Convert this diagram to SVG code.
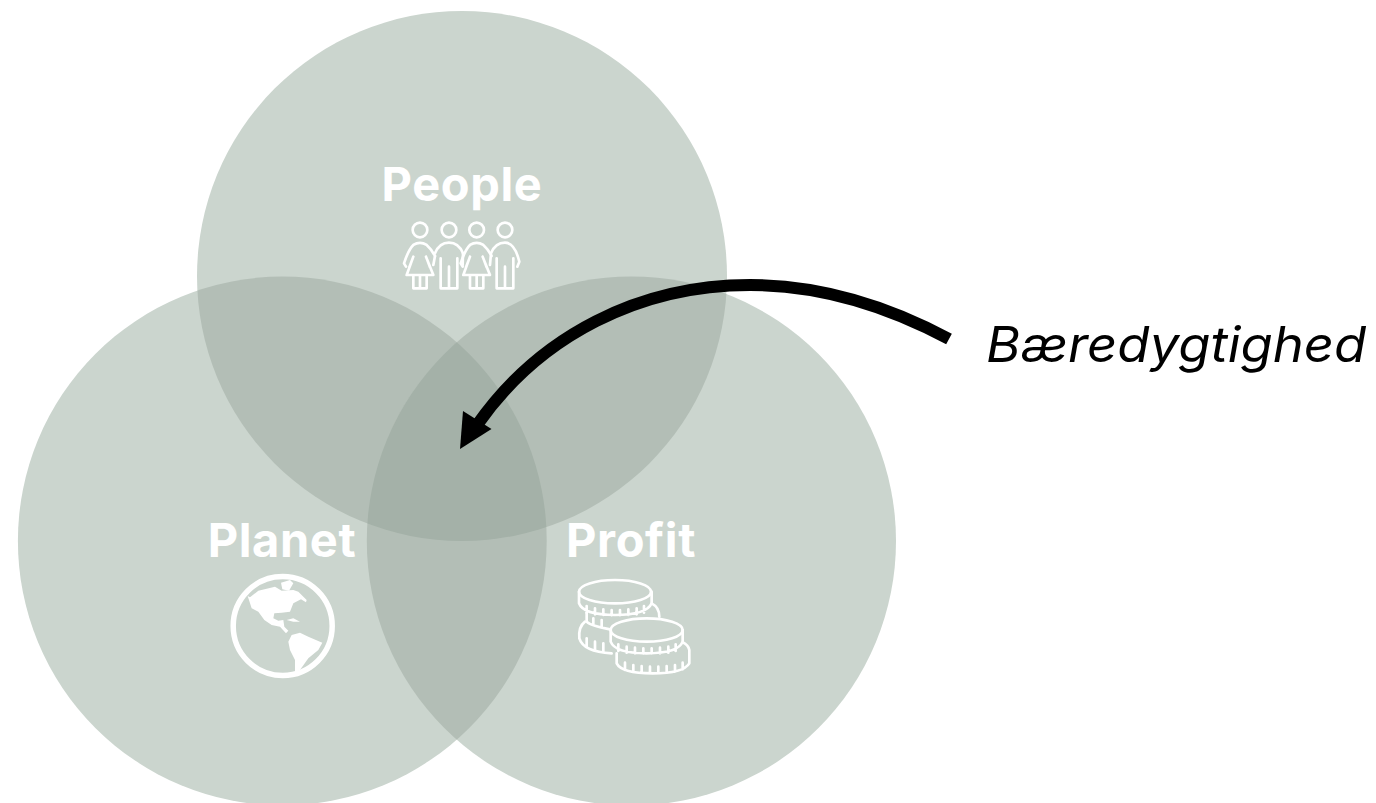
<svg xmlns="http://www.w3.org/2000/svg" width="1376" height="803" viewBox="0 0 1376 803">
<defs>
<clipPath id="cTop"><circle cx="462" cy="276" r="265"/></clipPath>
<clipPath id="cLeft"><circle cx="282.3" cy="541" r="264.4"/></clipPath>
<clipPath id="cRight"><circle cx="631.4" cy="541" r="264.6"/></clipPath>
<g id="woman"><path d="M78,350 L72,340 Q85,300 100,285 Q120,272 140,285 Q155,298 165,318 M100,320 L80,375 H160 L138,320 M100,320 L88,352 M138,320 L150,352 M100,375 V415 H140 V375 M120,375 V415"/></g>
<g id="man"><path d="M165,310 Q178,278 207,278 Q236,278 249,310 M182,325 V415 H232 V325 M207,350 V415"/></g>
</defs>
<style>
.c{fill:#cbd5ce}
.d{fill:#b3beb6}
.t{fill:#a4b1a8}
.l{font-family:"Inter","Liberation Sans",sans-serif;font-weight:700;font-size:47px;letter-spacing:.6px;fill:#fff;text-anchor:middle}
.i{fill:none;stroke:#fff;stroke-width:8;stroke-linejoin:round;stroke-linecap:round}
.m{fill:none;stroke:#fff;stroke-width:8;stroke-linejoin:round;stroke-linecap:round}
.s{fill:#fff}
</style>
<rect width="1376" height="803" fill="#fff"/>
<g id="node-people"><circle class="c" cx="462" cy="276" r="265"/></g>
<g id="node-planet"><circle class="c" cx="282.3" cy="541" r="264.4"/></g>
<g id="node-profit"><circle class="c" cx="631.4" cy="541" r="264.6"/></g>
<g id="overlaps">
<g clip-path="url(#cTop)"><circle class="d" cx="282.3" cy="541" r="264.4"/><circle class="d" cx="631.4" cy="541" r="264.6"/></g>
<g clip-path="url(#cLeft)"><circle class="d" cx="631.4" cy="541" r="264.6"/></g>
<g clip-path="url(#cTop)"><g clip-path="url(#cLeft)"><circle class="t" cx="631.4" cy="541" r="264.6"/></g></g>
</g>
<g id="label-people"><text class="l" x="462" y="201">People</text>
<g class="i" transform="translate(380,150) scale(.3333)">
<circle cx="120" cy="240" r="22"/><circle cx="207" cy="240" r="22"/><circle cx="290" cy="240" r="22"/><circle cx="375" cy="240" r="22"/>
<use href="#woman"/><use href="#man"/><use href="#woman" x="170"/>
<path d="M333,310 Q346,278 375,278 Q404,278 418,335 L412,350 M350,325 V415 H400 V325 M375,350 V415 M160,345 L165,318 M248,345 L249,310 M330,345 L333,310"/>
</g></g>
<g id="label-planet"><text class="l" x="282" y="557">Planet</text>
<circle cx="282.7" cy="626" r="49.5" fill="none" stroke="#fff" stroke-width="5.5"/>
<g class="s" transform="translate(225,570) scale(.3333)">
<path d="M68,78 L75,82 L100,62 L150,50 L170,62 L205,60 L220,65 L245,90 L243,97 L228,88 L205,100 L195,125 L170,128 L148,130 L145,145 L160,152 L175,150 L178,170 L190,182 L183,190 L165,170 L140,165 L118,150 L100,125 L80,115 Z"/>
<path d="M168,38 L195,30 L205,40 L192,62 L172,58 Z"/>
<path d="M185,150 L205,145 L225,155 L205,155 Z"/>
<path d="M190,215 L200,195 L225,188 L250,200 L292,218 L280,240 L250,265 L225,300 L210,308 L210,270 L195,240 Z"/>
</g></g>
<g id="label-profit"><text class="l" x="631" y="557">Profit</text>
<g class="m" transform="translate(560,510) scale(.3333)">
<ellipse cx="165" cy="245" rx="108" ry="35"/>
<path d="M57,245 V280 Q70,315 165,315 Q260,315 275,280 V245 M80,288 V308 M105,295 V313 M130,298 V315 M155,300 V316 M180,300 V316 M205,298 V315 M230,295 V313 M252,288 V308"/>
<path d="M275,280 Q298,292 298,320 M80,308 V335 Q92,348 150,358 M100,325 V345 M125,330 V352"/>
<path d="M75,335 Q55,350 58,385 Q70,425 155,430 M80,385 V410 M105,395 V420 M130,400 V425"/>
<ellipse cx="260" cy="360" rx="108" ry="35"/>
<path d="M152,360 V395 Q165,430 260,430 Q355,430 368,395 V360 M175,403 V423 M200,410 V428 M225,413 V430 M250,415 V431 M275,415 V431 M300,413 V430 M325,410 V428 M347,403 V423"/>
<path d="M170,430 V460 Q185,490 278,490 Q370,490 388,460 V420 Q385,405 368,397 M195,458 V480 M220,465 V485 M245,468 V488 M270,470 V490 M295,470 V490 M320,468 V488 M345,465 V485 M368,458 V478"/>
</g></g>
<g id="connectors">
<path d="M949,339 C880,302 815,285 750,285 C640,285 540,335 477,425" fill="none" stroke="#000" stroke-width="12"/>
<polygon points="460,449 463,411 491.5,429" fill="#000"/>
</g>
<g id="label-baeredygtighed"><text transform="translate(986,362) scale(1.073,1)" font-family="Inter,'Liberation Sans',sans-serif" font-style="italic" font-size="49" fill="#000">Bæredygtighed</text></g>
</svg>
